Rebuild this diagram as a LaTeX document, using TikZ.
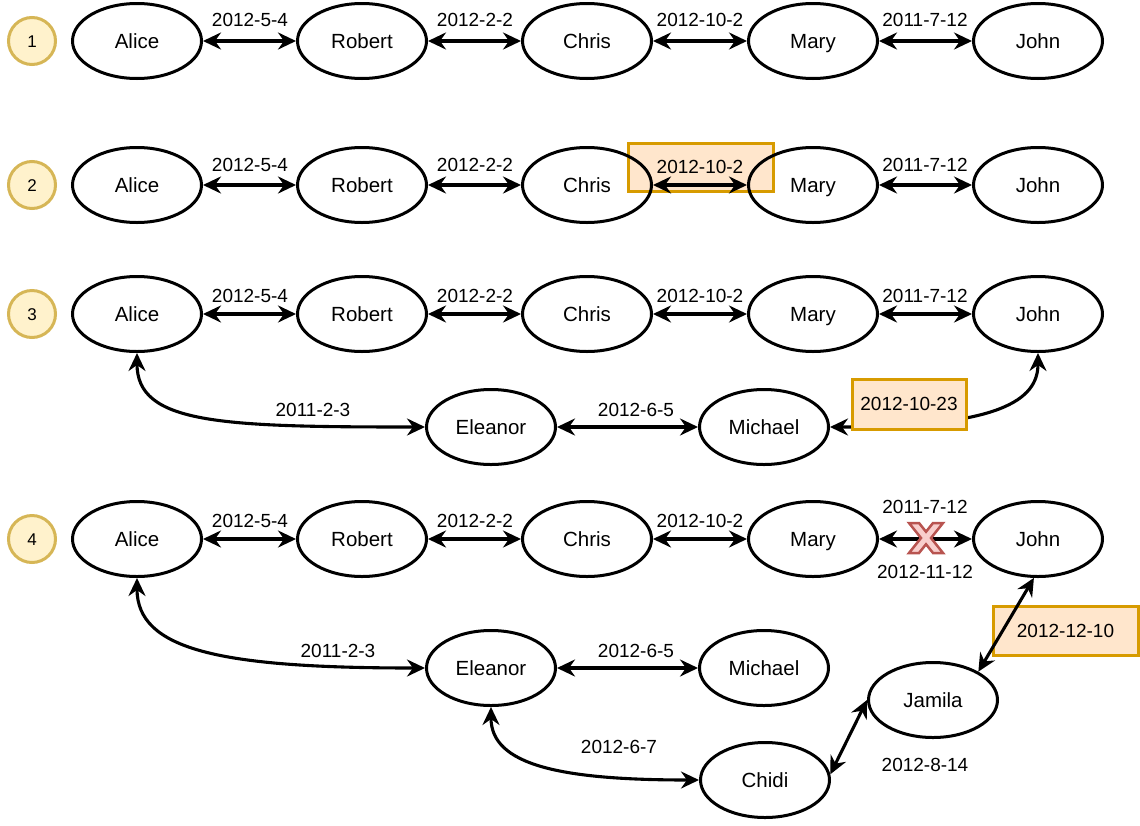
\documentclass[tikz,border=0pt]{standalone}
\usepackage{fontspec}
\setmainfont{Liberation Sans}
\usetikzlibrary{arrows.meta,shapes.geometric}
\definecolor{numfill}{HTML}{FFF2CC}
\definecolor{numline}{HTML}{D6B656}
\definecolor{hlfill}{HTML}{FFE6CC}
\definecolor{hlline}{HTML}{D79B00}
\definecolor{xfill}{HTML}{F8CECC}
\definecolor{xline}{HTML}{B85450}
\begin{document}
\begin{tikzpicture}[x=1pt,y=-1pt,
  person/.style={ellipse,draw,line width=3pt,minimum width=129pt,minimum height=75pt,inner sep=0pt,text height=14.7pt,text depth=0pt,font=\fontsize{20.5}{24}\selectfont},
  num/.style={circle,draw=numline,fill=numfill,line width=3pt,minimum size=47pt,inner sep=0pt,text height=12pt,text depth=0pt,font=\fontsize{17}{20}\selectfont},
  rel/.style={line width=3.1pt,{Stealth[length=18pt,width=17pt,inset=6pt]}-{Stealth[length=18pt,width=17pt,inset=6pt]}},
  lbl/.style={font=\fontsize{19}{22}\selectfont,inner sep=0pt},
  hl/.style={draw=hlline,fill=hlfill,line width=3pt,inner sep=0pt,font=\fontsize{19}{22}\selectfont}]
\useasboundingbox (0,0) rectangle (1140,825);

% row markers
\node[num] (n1) at (32,41) {1};
\node[num] (n2) at (32,185) {2};
\node[num] (n3) at (32,314) {3};
\node[num] (n4) at (32,539) {4};

% ---------- row 1 ----------
\node[person] (a1) at (137,41) {Alice};
\node[person] (r1) at (362,41) {Robert};
\node[person] (c1) at (587,41) {Chris};
\node[person] (m1) at (813,41) {Mary};
\node[person] (j1) at (1038,41) {John};
\draw[rel] (a1.east) -- (r1.west);
\draw[rel] (r1.east) -- (c1.west);
\draw[rel] (c1.east) -- (m1.west);
\draw[rel] (m1.east) -- (j1.west);
\node[lbl] (l1a) at (250,20) {2012-5-4};
\node[lbl] (l1b) at (475,20) {2012-2-2};
\node[lbl] (l1c) at (700,20) {2012-10-2};
\node[lbl] (l1d) at (925,20) {2011-7-12};

% ---------- row 2 ----------
\node[hl,minimum width=145pt,minimum height=48pt] (b2) at (700.5,167) {};
\node[person] (a2) at (137,185) {Alice};
\node[person] (r2) at (362,185) {Robert};
\node[person] (c2) at (587,185) {Chris};
\node[person] (m2) at (813,185) {Mary};
\node[person] (j2) at (1038,185) {John};
\draw[rel] (a2.east) -- (r2.west);
\draw[rel] (r2.east) -- (c2.west);
\draw[rel] (c2.east) -- (m2.west);
\draw[rel] (m2.east) -- (j2.west);
\node[lbl] (l2a) at (250,165) {2012-5-4};
\node[lbl] (l2b) at (475,165) {2012-2-2};
\node[lbl] (l2c) at (700,167) {2012-10-2};
\node[lbl] (l2d) at (925,165) {2011-7-12};

% ---------- row 3 ----------
\node[person] (a3) at (137,314) {Alice};
\node[person] (r3) at (362,314) {Robert};
\node[person] (c3) at (587,314) {Chris};
\node[person] (m3) at (813,314) {Mary};
\node[person] (j3) at (1038,314) {John};
\node[person] (e3) at (491,427) {Eleanor};
\node[person] (mi3) at (764,427) {Michael};
\draw[rel] (a3.east) -- (r3.west);
\draw[rel] (r3.east) -- (c3.west);
\draw[rel] (c3.east) -- (m3.west);
\draw[rel] (m3.east) -- (j3.west);
\draw[rel] (a3.south) .. controls (137,424) and (220,427) .. (e3.west);
\draw[rel] (e3.east) -- (mi3.west);
\draw[rel] (j3.south) .. controls (1038,400) and (1000,427) .. (mi3.east);
\node[lbl] (l3a) at (250,296) {2012-5-4};
\node[lbl] (l3b) at (475,296) {2012-2-2};
\node[lbl] (l3c) at (700,296) {2012-10-2};
\node[lbl] (l3d) at (925,296) {2011-7-12};
\node[lbl] (l3e) at (313,410) {2011-2-3};
\node[lbl] (l3f) at (636,410) {2012-6-5};
\node[hl,minimum width=114pt,minimum height=50pt] (b3) at (909,404) {2012-10-23};

% ---------- row 4 ----------
\node[hl,minimum width=145pt,minimum height=49pt] (b4) at (1065.5,630.5) {2012-12-10};
\node[person] (a4) at (137,539) {Alice};
\node[person] (r4) at (362,539) {Robert};
\node[person] (c4) at (587,539) {Chris};
\node[person] (m4) at (813,539) {Mary};
\node[person] (j4) at (1038,539) {John};
\node[person] (e4) at (491,668) {Eleanor};
\node[person] (mi4) at (764,668) {Michael};
\node[person] (ch4) at (765,780) {Chidi};
\node[person] (ja4) at (933,700) {Jamila};
\draw[rel] (a4.east) -- (r4.west);
\draw[rel] (r4.east) -- (c4.west);
\draw[rel] (c4.east) -- (m4.west);
\draw[rel] (m4.east) -- (j4.west);
\draw[rel] (a4.south) .. controls (137,650) and (220,668) .. (e4.west);
\draw[rel] (e4.east) -- (mi4.west);
\draw[rel] (e4.south) .. controls (491,765) and (560,780) .. (ch4.west);
\draw[rel] (ch4.5) -- (ja4.west);
\draw[rel] (j4.264) -- (ja4.32);
\node[lbl] (l4a) at (250,521) {2012-5-4};
\node[lbl] (l4b) at (475,521) {2012-2-2};
\node[lbl] (l4c) at (700,521) {2012-10-2};
\node[lbl] (l4d) at (925,507) {2011-7-12};
\node[lbl] (l4e) at (925,572) {2012-11-12};
\node[lbl] (l4f) at (338,651) {2011-2-3};
\node[lbl] (l4g) at (636,651) {2012-6-5};
\node[lbl] (l4h) at (619,747) {2012-6-7};
\node[lbl] (l4i) at (925,765) {2012-8-14};

% cross mark
\draw[fill=xfill,draw=xline,line width=2.5pt,line join=miter]
  (926,538) ++(-17,-15) -- ++(10,0) -- ++(7,8.75) -- ++(7,-8.75) -- ++(10,0)
  -- ++(-12,15) -- ++(12,15) -- ++(-10,0) -- ++(-7,-8.75) -- ++(-7,8.75)
  -- ++(-10,0) -- ++(12,-15) -- cycle;
\end{tikzpicture}
\end{document}
